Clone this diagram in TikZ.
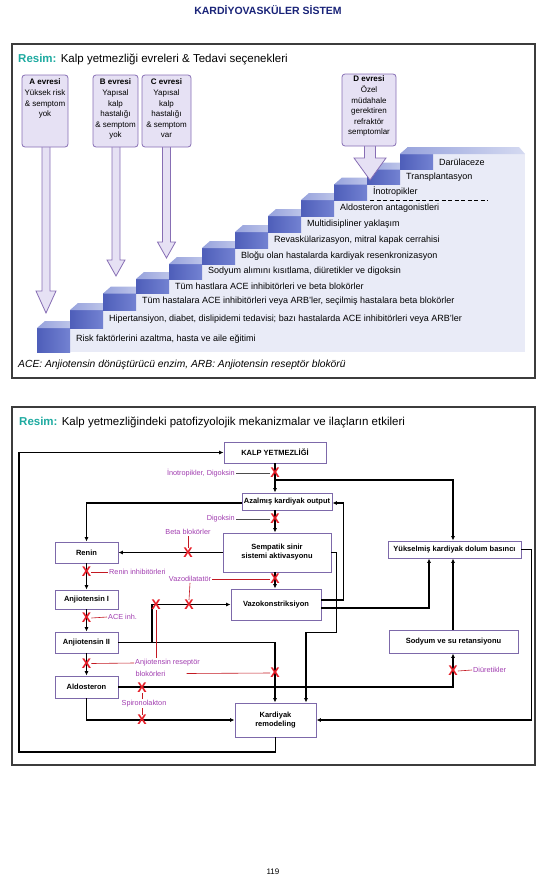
\documentclass[tikz,border=0pt]{standalone}
\usepackage{fontspec}
\setmainfont{Liberation Sans}
\usetikzlibrary{arrows.meta}

\definecolor{baslik}{RGB}{25,35,120}
\definecolor{resim}{RGB}{30,170,160}
\definecolor{cerceve}{RGB}{60,60,60}
\definecolor{kutukenar}{RGB}{125,105,170}
\definecolor{etiket}{RGB}{160,60,175}
\definecolor{carpirenk}{RGB}{230,30,40}
\definecolor{evrefill}{RGB}{230,225,244}
\definecolor{evrekenar}{RGB}{135,110,180}
\definecolor{basamakkoyu}{RGB}{78,94,185}
\definecolor{basamakacik}{RGB}{115,130,210}
\definecolor{basamakust}{RGB}{150,162,220}
\definecolor{lavanta}{RGB}{233,235,247}

\tikzset{
  kutu/.style={draw=kutukenar, line width=0.9pt, fill=white, align=center, inner sep=0pt, font=\fontsize{7.5}{9}\selectfont\bfseries},
  ok/.style={line width=1.2pt, -{Latex[length=4.5pt,width=4pt]}},
  carpi/.style={text=carpirenk, font=\fontsize{14}{14}\selectfont\bfseries, inner sep=0pt},
  ilac/.style={text=etiket, font=\fontsize{7.3}{9}\selectfont, inner sep=1pt},
  ince/.style={draw=carpirenk!85!black, line width=0.6pt},
  gri/.style={draw=black!70, line width=0.6pt},
  basamak/.style={font=\fontsize{9}{10}\selectfont, anchor=west, inner sep=0pt},
  evre/.style={draw=evrekenar, line width=0.8pt, fill=evrefill},
  evremetin/.style={anchor=north, align=center, inner sep=0pt, font=\fontsize{8}{10.6}\selectfont},
}

\begin{document}
\begin{tikzpicture}[x=1pt,y=-1pt]
\useasboundingbox (0,0) rectangle (550,883);
\node[font=\fontsize{10.5}{12}\selectfont\bfseries, text=baslik] (sayfabaslik) at (268,10) {KARDİYOVASKÜLER SİSTEM};

% ---- ust panel: evreler ----
\draw[cerceve, line width=1.2pt] (12,44) rectangle (535,378);
\node[anchor=west, inner sep=0pt, font=\fontsize{11.5}{13}\selectfont] (baslik1) at (18,59)
  {\textcolor{resim}{\textbf{Resim:}} Kalp yetmezliği evreleri \& Tedavi seçenekleri};

% basamaklar
\foreach \k/\ust/\alt/\ty/\metin in {
  0/328/352/339/{Risk faktörlerini azaltma, hasta ve aile eğitimi},
  1/310/328/319/{Hipertansiyon, diabet, dislipidemi tedavisi; bazı hastalarda ACE inhibitörleri veya ARB'ler},
  2/293.5/310/301/{Tüm hastalara ACE inhibitörleri veya ARB'ler, seçilmiş hastalara beta blokörler},
  3/279/293.5/286/{Tüm hastlara ACE inhibitörleri ve beta blokörler},
  4/264/279/271.5/{Sodyum alımını kısıtlama, diüretikler ve digoksin},
  5/248/264/256/{Bloğu olan hastalarda kardiyak resenkronizasyon},
  6/232/248/240/{Revaskülarizasyon, mitral kapak cerrahisi},
  7/216/232/224/{Multidisipliner yaklaşım},
  8/200/216/208/{Aldosteron antagonistleri},
  9/184.5/200/192/{İnotropikler},
  10/169.5/184.5/177/{Transplantasyon},
  11/154/169.5/162/{Darülaceze}}{
  \pgfmathsetmacro{\bx}{37+33*\k}
  \fill[lavanta] (\bx+33,\ust) rectangle (525,\alt);
  \shade[left color=basamakkoyu, right color=basamakacik] (\bx,\ust) rectangle (\bx+33,\alt);
  \shade[left color=basamakust, right color=basamakust!55!white] (\bx,\ust) -- (\bx+33,\ust) -- (\bx+41,\ust-7) -- (\bx+8,\ust-7) -- cycle;
  \node[basamak] (basamak\k) at (\bx+39,\ty) {\metin};
}
\shade[left color=basamakust, right color=basamakust!40!white] (400,154) -- (525,154) -- (519,147) -- (408,147) -- cycle;
\draw[dashed, line width=0.8pt, dash pattern=on 4pt off 2.5pt] (370,200) -- (488,200);

% evre oklari
\foreach \sx/\sw/\hb/\hw/\uc in {46/4/291/10/313, 116/4/260/9/276, 166.5/4/242/9/258, 370/5.5/158/16/180}
  \draw[evre] (\sx-\sw,140) -- (\sx-\sw,\hb) -- (\sx-\hw,\hb) -- (\sx,\uc) -- (\sx+\hw,\hb) -- (\sx+\sw,\hb) -- (\sx+\sw,140) -- cycle;
\draw[evre, rounded corners=3pt] (22,75) rectangle (68,147);
\draw[evre, rounded corners=3pt] (93,75) rectangle (138,147);
\draw[evre, rounded corners=3pt] (142,75) rectangle (191,147);
\draw[evre, rounded corners=3pt] (342,74) rectangle (396,146);
\node[evremetin] (evreA) at (45,79) {\textbf{A evresi}\\Yüksek risk\\\& semptom\\yok};
\node[evremetin] (evreB) at (115.5,79) {\textbf{B evresi}\\Yapısal\\kalp\\hastalığı\\\& semptom\\yok};
\node[evremetin] (evreC) at (166.5,79) {\textbf{C evresi}\\Yapısal\\kalp\\hastalığı\\\& semptom\\var};
\node[evremetin] (evreD) at (369,76) {\textbf{D evresi}\\Özel\\müdahale\\gerektiren\\refraktör\\semptomlar};

\node[anchor=west, inner sep=0pt, font=\fontsize{10.3}{12}\selectfont\itshape] (dipnot) at (18,365)
  {ACE: Anjiotensin dönüştürücü enzim, ARB: Anjiotensin reseptör blokörü};

% ---- alt panel: mekanizmalar ----
\draw[cerceve, line width=1.2pt] (12,407) rectangle (535,765);
\node[anchor=west, inner sep=0pt, font=\fontsize{11.5}{13}\selectfont] (baslik2) at (19,422)
  {\textcolor{resim}{\textbf{Resim:}} Kalp yetmezliğindeki patofizyolojik mekanizmalar ve ilaçların etkileri};

\node[kutu, minimum width=102pt, minimum height=21pt] (kalp) at (275,452.5) {KALP YETMEZLİĞİ};
\node[kutu, minimum width=90pt, minimum height=17pt] (azal) at (287,501.5) {Azalmış kardiyak output};
\node[kutu, minimum width=108pt, minimum height=39pt] (sempatik) at (277,552.5) {Sempatik sinir\\sistemi aktivasyonu};
\node[kutu, minimum width=63pt, minimum height=21pt] (renin) at (86.5,552.5) {Renin};
\node[kutu, minimum width=63pt, minimum height=19pt] (anj1) at (86.5,599.5) {Anjiotensin I};
\node[kutu, minimum width=63pt, minimum height=21pt] (anj2) at (86.5,642.5) {Anjiotensin II};
\node[kutu, minimum width=63pt, minimum height=22pt] (aldo) at (86.5,687) {Aldosteron};
\node[kutu, minimum width=90pt, minimum height=31pt] (vazo) at (276,604.5) {Vazokonstriksiyon};
\node[kutu, minimum width=133pt, minimum height=17pt] (yuksel) at (454.5,549.5) {Yükselmiş kardiyak dolum basıncı};
\node[kutu, minimum width=129pt, minimum height=23pt] (sodyum) at (453.5,641.5) {Sodyum ve su retansiyonu};
\node[kutu, minimum width=81pt, minimum height=34pt] (remod) at (275.5,720) {Kardiyak\\remodeling};

\coordinate (dal) at (275,480);
\coordinate (solkose) at (19,752);

% baglantilar
\draw[ok] (remod.south) |- (solkose) |- (kalp.west);
\draw[ok] (kalp.south) -- (kalp.south |- azal.north);
\draw[ok] (dal) -| ([xshift=-1.5pt]yuksel.north);
\draw[ok] ([yshift=-1.5pt]azal.west) -| (renin.north);
\draw[ok] (azal.south -| kalp.south) -- (sempatik.north -| kalp.south);
\draw[ok] (sempatik.west) -- (renin.east);
\draw[ok] (sempatik.south -| kalp.south) -- (vazo.north -| kalp.south);
\draw[ok] (sempatik.east) -- ++(5,0) -- ++(0,80) -| ([xshift=30.5pt]remod.north);
\draw[ok] ([yshift=4.5pt]vazo.east) -- ++(22,0) |- ([yshift=-1.5pt]azal.east);
\draw[ok] ([yshift=-3.5pt]vazo.east) -| ([xshift=-25.5pt]yuksel.south);
\draw[ok] (renin.south) -- (anj1.north);
\draw[ok] (anj1.south) -- (anj2.north);
\draw[ok] (anj2.south) -- (aldo.north);
\draw[ok] (anj2.east) -| ([xshift=-0.5pt]remod.north);
\draw[ok] (152,642.5) |- (vazo.west);
\draw[ok] (aldo.east) -| ([xshift=-0.5pt]sodyum.south);
\draw[ok] (aldo.south) |- (remod.west);
\draw[ok] ([xshift=-0.5pt]sodyum.north) -- ([xshift=-0.5pt]sodyum.north |- yuksel.south);
\draw[ok] (yuksel.east) -- ++(10,0) |- (remod.east);

% ilac etiketleri
\node[ilac, anchor=east] (inotrop) at (236,473) {İnotropikler, Digoksin};
\node[ilac, anchor=east] (digoksin) at (236,519) {Digoksin};
\node[ilac] (beta) at (188,532) {Beta blokörler};
\node[ilac] (vazodil) at (190,579) {Vazodilatatör};
\node[ilac, anchor=west] (renininh) at (108,572) {Renin inhibitörleri};
\node[ilac, anchor=west] (aceinh) at (107,617) {ACE inh.};
\node[ilac] (arb1) at (167.5,663) {Anjiotensin reseptör};
\node[ilac] (arb2) at (150.5,673.5) {blokörleri};
\node[ilac] (spiro) at (144,703.5) {Spironolakton};
\node[ilac, anchor=west] (diuretik) at (472,670) {Diüretikler};

% carpilar
\node[carpi] (x1) at (275,473) {X};
\node[carpi] (x2) at (275,519) {X};
\node[carpi] (x3) at (188,553) {X};
\node[carpi] (x4) at (275,579) {X};
\node[carpi] (x5) at (156,605) {X};
\node[carpi] (x6) at (189,605) {X};
\node[carpi] (x7) at (86.5,572) {X};
\node[carpi] (x8) at (86.5,618) {X};
\node[carpi] (x9) at (86.5,663.5) {X};
\node[carpi] (x10) at (275,673) {X};
\node[carpi] (x11) at (142,688) {X};
\node[carpi] (x12) at (142,720) {X};
\node[carpi] (x13) at (453,671) {X};

\draw[gri] (inotrop.east) -- (x1.west);
\draw[gri] (digoksin.east) -- (x2.west);
\draw[ince] (beta.south) -- (x3.north);
\draw[ince] (vazodil.east) -- (x4.west);
\draw[ince] (vazodil.south) -- (x6.north);
\draw[ince] (x7.east) -- (renininh.west);
\draw[ince] (x8.east) -- (aceinh.west);
\draw[ince] (x5.south) -- (arb1.north -| x5.south);
\draw[ince] (x9.east) -- (arb1.west);
\draw[ince] ([xshift=20pt]arb2.east) -- (x10.west);
\draw[ince] (x11.south) -- (spiro.north -| x11.south);
\draw[ince] (spiro.south -| x12.north) -- (x12.north);
\draw[ince] (x13.east) -- (diuretik.west);

\node[font=\fontsize{8}{10}\selectfont] (sayfano) at (273,872) {119};
\end{tikzpicture}
\end{document}
